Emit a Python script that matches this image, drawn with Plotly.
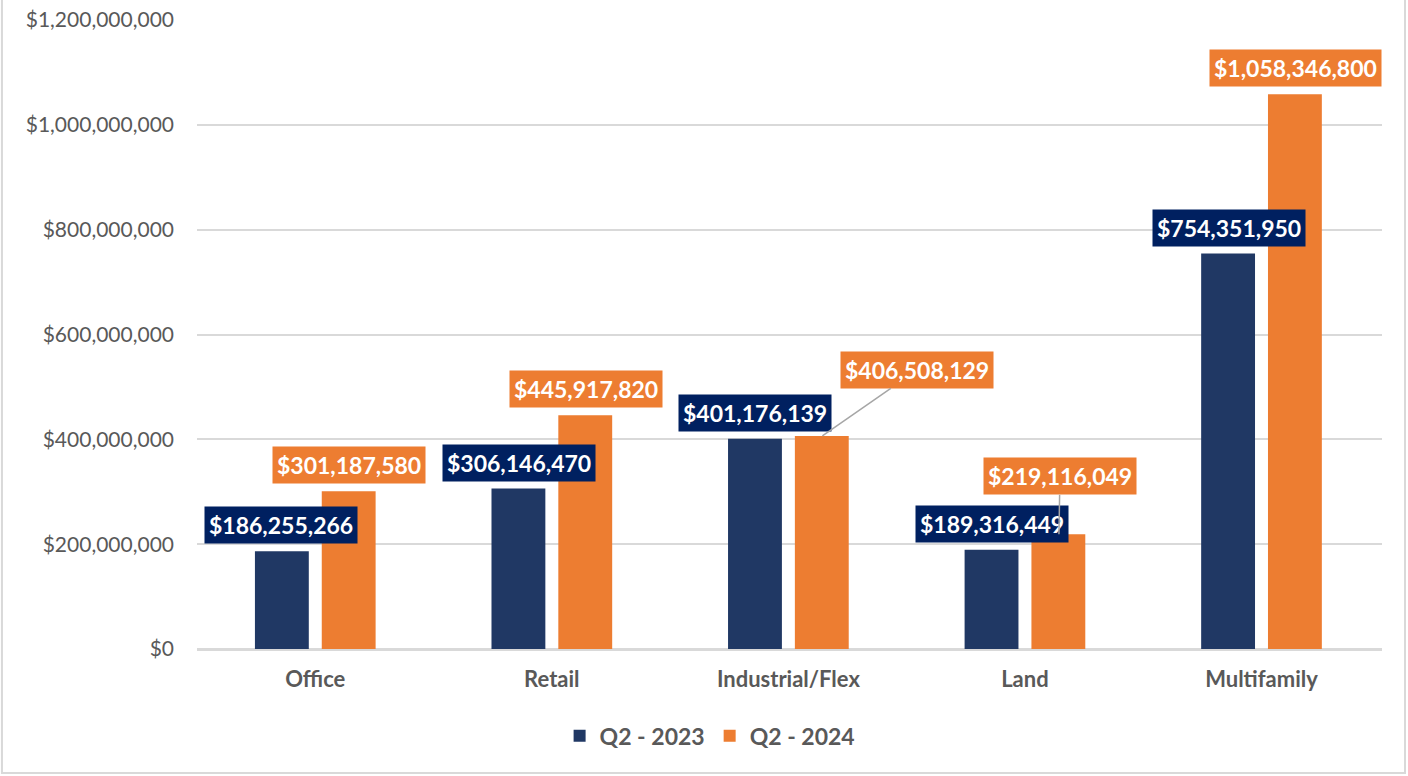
import plotly.graph_objects as go

categories = ["Office", "Retail", "Industrial/Flex", "Land", "Multifamily"]
q2_2023 = [186255266, 306146470, 401176139, 189316449, 754351950]
q2_2024 = [301187580, 445917820, 406508129, 219116049, 1058346800]
series_names = ["Q2 - 2023", "Q2 - 2024"]

bar_colors = ["#203864", "#ED7D31"]
label_bg = ["#002060", "#ED7D31"]
FONT = "Lato"

fig = go.Figure()
for name, vals, col in zip(series_names, [q2_2023, q2_2024], bar_colors):
    fig.add_trace(go.Bar(x=categories, y=vals, name=name, marker_color=col,
                         marker_line_width=0, hoverinfo="x+y"))

# label placement styles (pixel offsets), per series per category
xshifts = [[-34, -33, -33, -33, -33], [34, 34, 34, 34, 34]]
leader = {(1, 2): (95, -66), (1, 3): (1, -58)}

for s, vals in enumerate([q2_2023, q2_2024]):
    for i, (cat, v) in enumerate(zip(categories, vals)):
        txt = "${:,.0f}".format(v)
        common = dict(x=cat, y=v, text=txt, xshift=xshifts[s][i],
                      bgcolor=label_bg[s], borderpad=4,
                      font=dict(family=FONT, size=23, color="white", weight="bold"))
        if (s, i) in leader:
            ax, ay = leader[(s, i)]
            fig.add_annotation(**common, showarrow=True, arrowhead=0,
                               arrowwidth=1.5, arrowcolor="#A6A6A6",
                               ax=ax, ay=ay, standoff=0)
        else:
            fig.add_annotation(**common, showarrow=False, yanchor="middle", yshift=26)

fig.add_shape(type="rect", xref="paper", yref="paper",
              x0=-0.1646, x1=1.0194, y0=-0.197, y1=1.05,
              line=dict(color="#D9D9D9", width=2), fillcolor="rgba(0,0,0,0)",
              layer="below")

fig.update_layout(
    width=1408, height=776,
    margin=dict(l=197, r=26, t=20, b=127),
    paper_bgcolor="white", plot_bgcolor="white",
    barmode="group", bargap=0.435, bargroupgap=0.194,
    font=dict(family=FONT, color="#595959"),
    showlegend=True,
    legend=dict(orientation="h", x=0.433, xanchor="center", y=-0.138, yanchor="middle",
                font=dict(family=FONT, size=23, color="#595959", weight="bold"),
                itemwidth=30, tracegroupgap=0),
    xaxis=dict(showgrid=False, ticks="", showline=True, linecolor="#D9D9D9", linewidth=2,
               tickfont=dict(family=FONT, size=22, color="#595959", weight="bold"),
               ticklabelstandoff=10, automargin=False),
    yaxis=dict(range=[0, 1.2e9], dtick=2e8, tickformat="$,.0f",
               showgrid=True, gridcolor="#D9D9D9", gridwidth=2,
               zeroline=True, zerolinecolor="#D9D9D9", zerolinewidth=2,
               tickfont=dict(family=FONT, size=21, color="#595959"),
               ticklabelstandoff=22, automargin=False),
)

fig.write_html("out.html", config={"displayModeBar": False},
               post_script="document.body.style.margin='0';document.body.style.overflow='hidden';")
